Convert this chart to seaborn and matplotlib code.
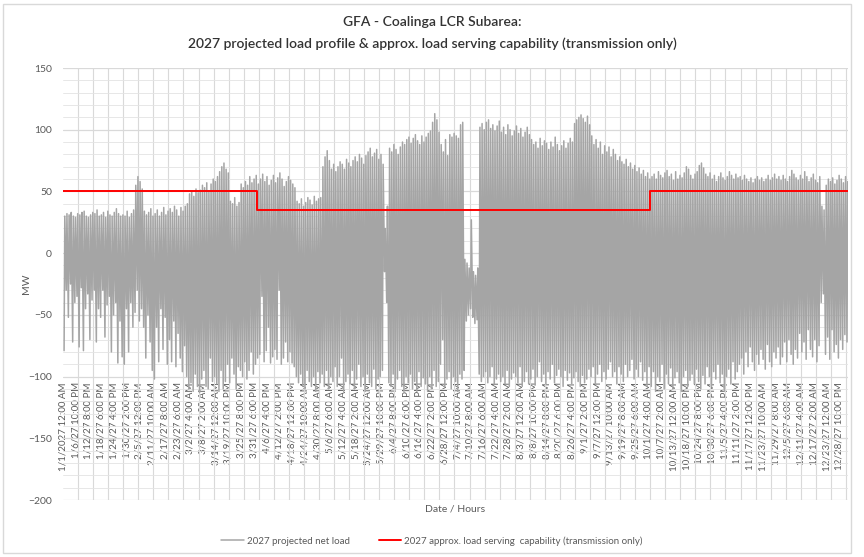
import numpy as np
import pandas as pd
import matplotlib
matplotlib.use("Agg")
import matplotlib.pyplot as plt
from matplotlib.patches import Rectangle
from matplotlib.ticker import MultipleLocator
import seaborn as sns

# daily net load extremes (MW), one value per day, Jan 1 .. Dec 31
daily_high = [
    30, 32, 31, 33, 30, 29, 32,
    31, 33, 34, 30, 29, 31, 33,
    32, 35, 30, 31, 33, 29, 34,
    31, 30, 33, 36, 32, 30, 31,
    30, 34, 29, 32, 35, 55, 62,
    58, 52, 34, 31, 33, 36, 30,
    32, 35, 30, 33, 37, 31, 34,
    36, 33, 38, 35, 30, 37, 34,
    38, 40, 48, 50, 46, 52, 49,
    51, 55, 53, 57, 50, 56, 60,
    58, 62, 66, 70, 73, 68, 65,
    42, 40, 45, 38, 41, 56, 53,
    58, 55, 62, 57, 60, 63, 56,
    60, 64, 58, 62, 55, 59, 63,
    57, 61, 65, 60, 54, 58, 62,
    59, 56, 53, 42, 40, 44, 38,
    41, 45, 43, 39, 46, 42, 44,
    45, 70, 78, 83, 75, 68, 72,
    66, 70, 74, 72, 68, 76, 73,
    70, 75, 78, 74, 80, 77, 72,
    79, 82, 85, 78, 81, 84, 76,
    80, 72, 20, 38, 85, 82, 88,
    84, 80, 86, 90, 88, 92, 94,
    89, 93, 96, 91, 88, 95, 90,
    94, 97, 99, 106, 113, 108, 98,
    88, 82, 92, 79, 96, 94, 97,
    95, 93, 104, 106, -5, -8, -12,
    27, -15, -18, -12, 102, 105, 100,
    106, 108, 101, 104, 99, 103, 107,
    98, 102, 96, 104, 100, 95, 99,
    103, 97, 101, 94, 98, 102, 96,
    92, 88, 90, 85, 93, 87, 91,
    89, 84, 90, 86, 94, 88, 83,
    87, 91, 85, 89, 93, 90, 105,
    108, 110, 112, 109, 106, 111, 104,
    95, 88, 92, 85, 90, 80, 87,
    82, 86, 78, 84, 80, 75, 78,
    74, 72, 76, 70, 73, 68, 71,
    66, 69, 64, 67, 62, 65, 60,
    62, 64, 60, 66, 63, 61, 65,
    67, 62, 64, 59, 66, 60, 63,
    61, 65, 70, 68, 63, 60, 64,
    66, 71, 73, 69, 64, 62, 65,
    60, 63, 58, 62, 65, 61, 59,
    62, 66, 63, 60, 64, 61, 62,
    59, 63, 60, 58, 61, 57, 60,
    62, 59, 61, 58, 60, 63, 59,
    61, 64, 60, 62, 59, 63, 60,
    58, 62, 67, 64, 61, 59, 63,
    60, 66, 62, 58, 61, 64, 59,
    57, 62, 38, 35, 55, 60, 58,
    61, 56, 59, 63, 60, 57, 62,
    58,
]
daily_low = [
    -79, -30, -52, -25, -72, -40, -35,
    -76, -28, -79, -45, -33, -70, -38,
    -30, -72, -45, -52, -30, -68, -42,
    -35, -80, -50, -40, -89, -55, -84,
    -90, -45, -80, -40, -60, -48, -30,
    -55, -45, -60, -85, -50, -72, -95,
    -102, -60, -88, -45, -78, -52, -90,
    -70, -88, -55, -92, -65, -85, -96,
    -75, -100, -110, -105, -112, -98, -108,
    -113, -102, -95, -108, -110, -85, -104,
    -100, -106, -112, -95, -110, -104, -90,
    -105, -85, -98, -110, -92, -95, -100,
    -88, -102, -95, -80, -98, -90, -85,
    -82, -35, -88, -79, -60, -89, -84,
    -78, -86, -30, -90, -85, -72, -88,
    -80, -89, -92, -100, -105, -98, -108,
    -110, -95, -104, -108, -100, -112, -96,
    -105, -98, -108, -95, -110, -100, -104,
    -92, -108, -100, -85, -112, -104, -98,
    -106, -95, -110, -102, -90, -108, -100,
    -112, -98, -105, -108, -94, -110, -102,
    -100, -95, -15, -40, -105, -108, -98,
    -110, -102, -95, -108, -112, -100, -105,
    -98, -110, -104, -112, -96, -108, -101,
    -106, -112, -100, -110, -95, -108, -104,
    -90, -70, -108, -102, -96, -110, -100,
    -104, -112, -98, -102, -95, -55, -50,
    -45, -52, -57, -54, -98, -104, -100,
    -96, -105, -100, -92, -106, -102, -98,
    -104, -100, -106, -95, -108, -102, -97,
    -100, -105, -92, -108, -104, -96, -106,
    -102, -94, -107, -100, -88, -104, -98,
    -106, -96, -102, -90, -105, -99, -94,
    -100, -108, -95, -103, -97, -106, -101,
    -96, -104, -108, -99, -105, -102, -94,
    -100, -92, -106, -98, -90, -104, -96,
    -102, -94, -88, -100, -96, -106, -92,
    -98, -104, -90, -100, -95, -86, -102,
    -94, -100, -88, -103, -96, -108, -92,
    -108, -96, -112, -100, -104, -90, -110,
    -98, -106, -93, -110, -101, -96, -105,
    -112, -100, -95, -108, -103, -98, -106,
    -94, -104, -110, -99, -106, -92, -100,
    -108, -96, -102, -90, -105, -98, -112,
    -100, -94, -106, -88, -102, -96, -90,
    -85, -98, -80, -92, -76, -88, -95,
    -82, -90, -78, -86, -94, -74, -88,
    -92, -80, -85, -76, -90, -84, -72,
    -88, -70, -82, -90, -78, -85, -65,
    -80, -72, -86, -62, -78, -84, -70,
    -88, -75, -40, -33, -82, -68, -86,
    -62, -80, -74, -85, -70, -78, -66,
    -72,
]

# transmission-only load serving capability (MW), step changes
cap_dates = ["2027-01-01 00:00", "2027-04-01 00:00", "2027-10-01 00:00", "2027-12-31 23:00"]
cap_mw = [50, 35, 50, 50]

# category axis labels (Excel shows one every 142 hours)
tick_labels = [
    "1/1/2027 12:00 AM", "1/6/27 10:00 PM", "1/12/27 8:00 PM", "1/18/27 6:00 PM",
    "1/24/27 4:00 PM", "1/30/27 2:00 PM", "2/5/27 12:00 PM", "2/11/27 10:00 AM",
    "2/17/27 8:00 AM", "2/23/27 6:00 AM", "3/2/27 4:00 AM", "3/8/27 2:00 AM",
    "3/14/27 12:00 AM", "3/19/27 10:00 PM", "3/25/27 8:00 PM", "3/31/27 6:00 PM",
    "4/6/27 4:00 PM", "4/12/27 2:00 PM", "4/18/27 12:00 PM", "4/24/27 10:00 AM",
    "4/30/27 8:00 AM", "5/6/27 6:00 AM", "5/12/27 4:00 AM", "5/18/27 2:00 AM",
    "5/24/27 12:00 AM", "5/29/27 10:00 PM", "6/4/27 8:00 PM", "6/10/27 6:00 PM",
    "6/16/27 4:00 PM", "6/22/27 2:00 PM", "6/28/27 12:00 PM", "7/4/27 10:00 AM",
    "7/10/27 8:00 AM", "7/16/27 6:00 AM", "7/22/27 4:00 AM", "7/28/27 2:00 AM",
    "8/3/27 12:00 AM", "8/8/27 10:00 PM", "8/14/27 8:00 PM", "8/20/27 6:00 PM",
    "8/26/27 4:00 PM", "9/1/27 2:00 PM", "9/7/27 12:00 PM", "9/13/27 10:00 AM",
    "9/19/27 8:00 AM", "9/25/27 6:00 AM", "10/1/27 4:00 AM", "10/7/27 2:00 AM",
    "10/13/27 12:00 AM", "10/18/27 10:00 PM", "10/24/27 8:00 PM", "10/30/27 6:00 PM",
    "11/5/27 4:00 PM", "11/11/27 2:00 PM", "11/17/27 12:00 PM", "11/23/27 10:00 AM",
    "11/29/27 8:00 AM", "12/5/27 6:00 AM", "12/11/27 4:00 AM", "12/17/27 2:00 AM",
    "12/23/27 12:00 AM", "12/28/27 10:00 PM",
]

# build the series: midday trough and evening peak for every day
days = pd.date_range("2027-01-01", periods=len(daily_high), freq="D")
start = pd.Timestamp("2027-01-01")
low_t = days + pd.Timedelta(hours=12)
high_t = days + pd.Timedelta(hours=20)
load = pd.DataFrame({
    "time": np.concatenate([low_t, high_t]),
    "mw": np.concatenate([daily_low, daily_high]),
}).sort_values("time")
load["hour"] = (load["time"] - start) / pd.Timedelta(hours=1)

cap = pd.DataFrame({"time": pd.to_datetime(cap_dates), "mw": cap_mw})
cap["hour"] = (cap["time"] - start) / pd.Timedelta(hours=1)

sns.set_style("white")
plt.rcParams["font.family"] = ["Lato", "DejaVu Sans"]
txt = "#595959"

fig = plt.figure(figsize=(8.64, 5.57), dpi=100)
ax = fig.add_axes([63 / 864, 1 - 500 / 557, 785 / 864, 432 / 557])

sns.lineplot(data=load, x="hour", y="mw", color="#a5a5a5", lw=1.1,
             estimator=None, sort=False, ax=ax, label="2027 projected net load")
sns.lineplot(data=cap, x="hour", y="mw", color="#ff0000", lw=1.4,
             drawstyle="steps-post", estimator=None, sort=False, ax=ax,
             label="2027 approx. load serving  capability (transmission only)")

ax.set_xlim(0, 8759)
ax.set_ylim(-200, 150)
ax.set_axisbelow(True)

ax.yaxis.set_major_locator(MultipleLocator(50))
ax.yaxis.set_minor_locator(MultipleLocator(10))
ax.xaxis.set_minor_locator(MultipleLocator(168))
ax.set_xticks(np.arange(len(tick_labels)) * 142)
ax.set_xticklabels(tick_labels)
ax.grid(which="major", axis="y", color="#d9d9d9", lw=0.9)
ax.grid(which="minor", axis="y", color="#e3e3e3", lw=0.6)
ax.grid(which="minor", axis="x", color="#d9d9d9", lw=0.8)

for s in ax.spines.values():
    s.set_visible(False)
ax.spines["bottom"].set_position(("data", -100))
ax.tick_params(axis="both", which="both", length=0, colors=txt)
ax.tick_params(axis="x", labelsize=7, pad=4, labelrotation=90)
ax.tick_params(axis="y", labelsize=7.5, pad=8)
for lab in ax.get_xticklabels():
    lab.set_va("top")
    lab.set_ha("center")

ax.set_xlabel("")
ax.set_ylabel("")
fig.text(26 / 864, 1 - 284 / 557, "MW", rotation=90, ha="center", va="center",
         color=txt, fontsize=7.5)
ax.text(0.5, -0.021, "Date / Hours", transform=ax.transAxes, ha="center",
        va="center", color=txt, fontsize=7.5)

fig.text(0.5, 1 - 22 / 557, "GFA - Coalinga LCR Subarea:", ha="center",
         va="center", color="#333333", fontsize=10, fontweight="semibold")
fig.text(0.5, 1 - 44 / 557,
         "2027 projected load profile & approx. load serving capability (transmission only)",
         ha="center", va="center", color="#333333", fontsize=10, fontweight="semibold")

ax.get_legend().remove()
handles, labels = ax.get_legend_handles_labels()
fig.legend(handles, labels, loc="center", bbox_to_anchor=(0.5, 1 - 541 / 557),
           ncol=2, frameon=False, fontsize=7, labelcolor=txt,
           handlelength=2.3, columnspacing=3, handletextpad=0.3)

fig.add_artist(Rectangle((3 / 864, 4 / 557), 848 / 864, 549 / 557,
                         transform=fig.transFigure, fill=False,
                         ec="#d9d9d9", lw=1))

fig.savefig("out.png", dpi=100)
